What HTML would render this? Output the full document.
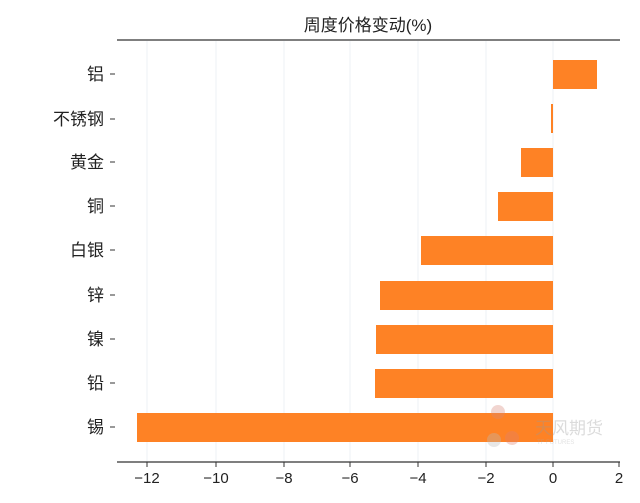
<!DOCTYPE html>
<html><head><meta charset="utf-8"><style>body{margin:0;background:#fff}svg{display:block}</style></head>
<body>
<svg width="640" height="503" xmlns="http://www.w3.org/2000/svg" font-family="Liberation Sans, Noto Sans CJK SC, sans-serif">
<rect width="640" height="503" fill="#fff"/>
<g stroke="#eef0f6" stroke-width="1">
<line x1="147" y1="41" x2="147" y2="462"/><line x1="216" y1="41" x2="216" y2="462"/>
<line x1="284" y1="41" x2="284" y2="462"/><line x1="350" y1="41" x2="350" y2="462"/>
<line x1="418" y1="41" x2="418" y2="462"/><line x1="486" y1="41" x2="486" y2="462"/>
<line x1="553" y1="41" x2="553" y2="462"/>
</g>
<line x1="117" y1="40" x2="620" y2="40" stroke="#333" stroke-width="1.2"/>
<text x="368" y="31" font-size="17" text-anchor="middle" fill="#222">周度价格变动(%)</text>
<g fill="#fe8225">
<rect x="553" y="60" width="44" height="29"/>
<rect x="551" y="104" width="2" height="29"/>
<rect x="521" y="148" width="32" height="29"/>
<rect x="498" y="192" width="55" height="29"/>
<rect x="421" y="236" width="132" height="29"/>
<rect x="380" y="281" width="173" height="29"/>
<rect x="376" y="325" width="177" height="29"/>
<rect x="375" y="369" width="178" height="29"/>
<rect x="137" y="413" width="416" height="29"/>
</g>
<g font-size="17" fill="#222" text-anchor="end">
<text x="104" y="80">铝</text><text x="104" y="125">不锈钢</text><text x="104" y="168">黄金</text>
<text x="104" y="212">铜</text><text x="104" y="256">白银</text><text x="104" y="301">锌</text>
<text x="104" y="345">镍</text><text x="104" y="389">铅</text><text x="104" y="433">锡</text>
</g>
<g stroke="#333" stroke-width="1">
<line x1="110" y1="74" x2="115" y2="74"/><line x1="110" y1="119" x2="115" y2="119"/>
<line x1="110" y1="162" x2="115" y2="162"/><line x1="110" y1="206" x2="115" y2="206"/>
<line x1="110" y1="250" x2="115" y2="250"/><line x1="110" y1="295" x2="115" y2="295"/>
<line x1="110" y1="339" x2="115" y2="339"/><line x1="110" y1="383" x2="115" y2="383"/>
<line x1="110" y1="427" x2="115" y2="427"/>
</g>
<line x1="117" y1="462" x2="620" y2="462" stroke="#333" stroke-width="1.2"/>
<g stroke="#333" stroke-width="1">
<line x1="147" y1="462" x2="147" y2="467"/><line x1="216" y1="462" x2="216" y2="467"/>
<line x1="284" y1="462" x2="284" y2="467"/><line x1="350" y1="462" x2="350" y2="467"/>
<line x1="418" y1="462" x2="418" y2="467"/><line x1="486" y1="462" x2="486" y2="467"/>
<line x1="553" y1="462" x2="553" y2="467"/><line x1="619" y1="462" x2="619" y2="467"/>
</g>
<g font-size="15" fill="#222" text-anchor="middle">
<text x="147" y="483">−12</text><text x="216" y="483">−10</text><text x="284" y="483">−8</text>
<text x="350" y="483">−6</text><text x="418" y="483">−4</text><text x="486" y="483">−2</text>
<text x="553" y="483">0</text><text x="619" y="483">2</text>
</g>
<g opacity="0.35">
<circle cx="498" cy="412" r="7" fill="#d98a7a"/>
<circle cx="494" cy="440" r="7" fill="#bbb"/><circle cx="512" cy="438" r="7" fill="#e08070"/>
<text x="535" y="434" font-size="17" fill="#999">天风期货</text>
<text x="537" y="444" font-size="6" fill="#aaa">TF FUTURES</text>
</g>
</svg>
</body></html>
